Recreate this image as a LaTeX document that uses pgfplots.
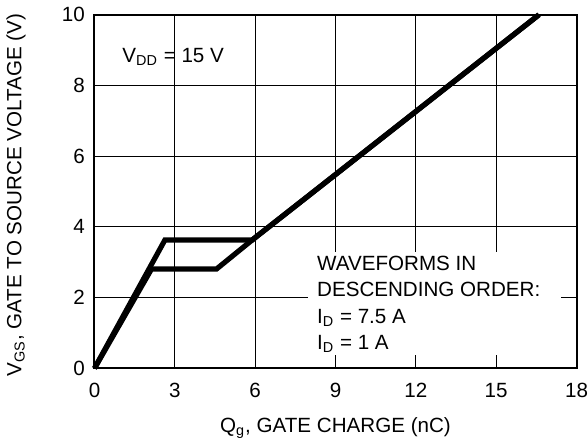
\documentclass[border=0pt]{standalone}
\usepackage{fontspec}
\setmainfont{Liberation Sans}
\usepackage{pgfplots}
\pgfplotsset{compat=1.18}

\begin{document}
\begin{tikzpicture}
% page = 588x447 px, 1 px = 0.5 pt, axis lower left at (0,0)
\useasboundingbox (-47.25pt,-39.35pt) rectangle (246.75pt,184.15pt);
\begin{axis}[
  at={(0,0)}, anchor=south west,
  scale only axis,
  width=241pt, height=176.8pt,
  xmin=0, xmax=18, ymin=0, ymax=10,
  xtick={0,3,...,18}, ytick={0,2,...,10},
  grid=major,
  major grid style={black, line width=0.5pt},
  axis line style={line width=1pt},
  major tick length=0pt,
  font=\fontsize{10.3}{12}\selectfont,
  /pgf/number format/assume math mode=true,
  xticklabel style={anchor=north, yshift=-4.1pt},
  yticklabel style={anchor=east, xshift=-1.3pt},
  xlabel={Q\textsubscript{g}, GATE CHARGE (nC)},
  ylabel={V\textsubscript{GS}, GATE TO SOURCE VOLTAGE (V)},
  xlabel style={at={(axis description cs:0.5,-0.1697)}, anchor=center},
  ylabel style={at={(axis description cs:-0.1628,0.49)}, anchor=center},
  clip=false,
]
% I_D = 1 A
\addplot[black, no marks, line width=2.6pt, line join=miter]
  coordinates {(0,0) (2.13,2.81) (4.56,2.81) (5.89,3.63) (16.6,10)};
% I_D = 7.5 A
\addplot[black, no marks, line width=2.6pt, line join=miter]
  coordinates {(0,0) (2.63,3.63) (5.89,3.63) (16.6,10)};

\node[anchor=base west, inner sep=0] at (axis cs:1.03,8.66) {V\textsubscript{DD} = 15 V};

\fill[white] (axis cs:7.96,0.38) rectangle (axis cs:17.43,3.3);
\node[anchor=base west, inner sep=0] at (axis cs:8.30,2.78) {WAVEFORMS IN};
\node[anchor=base west, inner sep=0] at (axis cs:8.30,2.045) {DESCENDING ORDER:};
\node[anchor=base west, inner sep=0] at (axis cs:8.30,1.273) {I\textsubscript{D} = 7.5 A};
\node[anchor=base west, inner sep=0] at (axis cs:8.30,0.537) {I\textsubscript{D} = 1 A};
\end{axis}
\end{tikzpicture}
\end{document}
